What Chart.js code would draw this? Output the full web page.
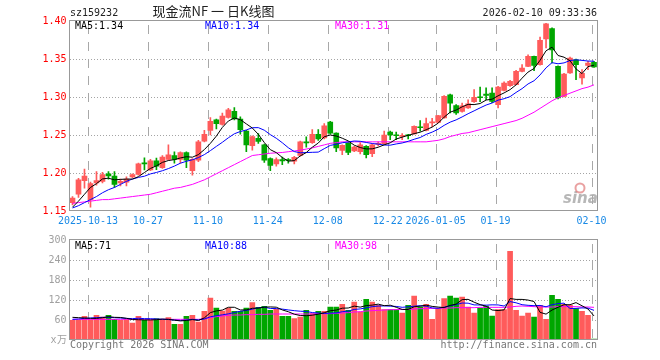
<!DOCTYPE html>
<html lang="zh-CN">
<head>
<meta charset="utf-8">
<title>现金流NF 日K线图</title>
<script src="https://cdn.jsdelivr.net/npm/chart.js@4.4.1/dist/chart.umd.min.js"></script>
<style>
html,body{margin:0;padding:0;background:#fff;}
#wrap{position:relative;width:660px;height:360px;overflow:hidden;background:#fff;}
#wrap canvas{position:absolute;left:0;}
.t{position:absolute;font-family:"DejaVu Sans Mono",monospace;font-size:10px;line-height:10px;white-space:pre;}
</style>
</head>
<body>
<div id="wrap">
  <canvas id="kline" width="660" height="232" style="top:0;width:660px;height:232px;"></canvas>
  <canvas id="vol" width="660" height="130" style="top:230px;width:660px;height:130px;"></canvas>
  <div class="t" style="left:70px;top:8px;color:#222;">sz159232</div>
  <div class="t" style="left:100px;width:227px;top:4px;text-align:center;font-family:'Noto Sans CJK SC',sans-serif;font-size:13px;line-height:13px;color:#222;">现金流NF 一 日K线图</div>
  <div class="t" style="right:63px;top:8px;color:#222;">2026-02-10 09:33:36</div>
  <div class="t" style="left:75px;top:21px;color:#000;">MA5:1.34</div>
  <div class="t" style="left:205px;top:21px;color:#0000ff;">MA10:1.34</div>
  <div class="t" style="left:335px;top:21px;color:#ff00ff;">MA30:1.31</div>
  <div class="t" style="left:75px;top:241px;color:#000;">MA5:71</div>
  <div class="t" style="left:205px;top:241px;color:#0000ff;">MA10:88</div>
  <div class="t" style="left:335px;top:241px;color:#ff00ff;">MA30:98</div>
  <div class="t" style="left:70px;top:340px;color:#777;">Copyright 2026 SINA.COM</div>
  <div class="t" style="right:63px;top:340px;color:#777;">http://finance.sina.com.cn</div>
</div>
<script>
// ---------- data ----------
const dates = [
 '2025-09-30','2025-10-09','2025-10-10',
 '2025-10-13','2025-10-14','2025-10-15','2025-10-16','2025-10-17',
 '2025-10-20','2025-10-21','2025-10-22','2025-10-23','2025-10-24',
 '2025-10-27','2025-10-28','2025-10-29','2025-10-30','2025-10-31',
 '2025-11-03','2025-11-04','2025-11-05','2025-11-06','2025-11-07',
 '2025-11-10','2025-11-11','2025-11-12','2025-11-13','2025-11-14',
 '2025-11-17','2025-11-18','2025-11-19','2025-11-20','2025-11-21',
 '2025-11-24','2025-11-25','2025-11-26','2025-11-27','2025-11-28',
 '2025-12-01','2025-12-02','2025-12-03','2025-12-04','2025-12-05',
 '2025-12-08','2025-12-09','2025-12-10','2025-12-11','2025-12-12',
 '2025-12-15','2025-12-16','2025-12-17','2025-12-18','2025-12-19',
 '2025-12-22','2025-12-23','2025-12-24','2025-12-25','2025-12-26',
 '2025-12-29','2025-12-30','2025-12-31',
 '2026-01-05','2026-01-06','2026-01-07','2026-01-08','2026-01-09',
 '2026-01-12','2026-01-13','2026-01-14','2026-01-15','2026-01-16',
 '2026-01-19','2026-01-20','2026-01-21','2026-01-22','2026-01-23',
 '2026-01-26','2026-01-27','2026-01-28','2026-01-29','2026-01-30',
 '2026-02-02','2026-02-03','2026-02-04','2026-02-05','2026-02-06',
 '2026-02-09','2026-02-10'
];
const tickDates  = ['2025-10-13','2025-10-27','2025-11-10','2025-11-24','2025-12-08','2025-12-22','2026-01-05','2026-01-19','2026-02-10'];
const tickLabels = ['2025-10-13','10-27','11-10','11-24','12-08','12-22','2026-01-05','01-19','02-10'];

const open = [1.161,1.172,1.190,1.165,1.187,1.189,1.199,1.196,1.187,1.188,
 1.195,1.198,1.2125,1.204,1.216,1.207,1.218,1.223,1.218,1.227,
 1.203,1.217,1.242,1.256,1.270,1.264,1.273,1.281,1.271,1.255,
 1.236,1.2455,1.237,1.219,1.212,1.2175,1.2175,1.2155,1.223,1.241,
 1.240,1.251,1.246,1.267,1.2525,1.2297,1.2395,1.229,1.228,1.235,
 1.2255,1.2375,1.2386,1.254,1.250,1.248,1.2495,1.2513,1.2605,1.256,
 1.266,1.2666,1.2724,1.303,1.2888,1.281,1.2855,1.294,1.300,1.304,
 1.3053,1.290,1.3087,1.3149,1.3162,1.3337,1.3403,1.3534,1.3425,1.3763,
 1.390,1.3403,1.3008,1.3316,1.349,1.325,1.3416,1.3455];
const high = [1.169,1.193,1.205,1.188,1.202,1.201,1.202,1.202,1.192,1.195,
 1.199,1.213,1.220,1.218,1.2197,1.223,1.237,1.228,1.228,1.228,
 1.219,1.243,1.256,1.273,1.271,1.279,1.285,1.286,1.274,1.256,
 1.249,1.252,1.238,1.220,1.220,1.221,1.219,1.222,1.242,1.2475,
 1.257,1.257,1.265,1.268,1.253,1.237,1.240,1.235,1.240,1.236,
 1.238,1.241,1.255,1.255,1.254,1.252,1.251,1.262,1.269,1.2724,
 1.272,1.276,1.302,1.304,1.290,1.292,1.2964,1.3096,1.313,1.312,
 1.312,1.314,1.320,1.322,1.335,1.3425,1.3555,1.354,1.379,1.397,
 1.391,1.341,1.331,1.3525,1.350,1.336,1.347,1.347];
const low = [1.158,1.168,1.180,1.155,1.184,1.187,1.192,1.181,1.183,1.183,
 1.194,1.197,1.204,1.203,1.2043,1.206,1.217,1.213,1.213,1.207,
 1.197,1.215,1.241,1.250,1.258,1.263,1.272,1.270,1.251,1.228,
 1.230,1.239,1.214,1.203,1.209,1.211,1.213,1.212,1.222,1.234,
 1.239,1.243,1.245,1.251,1.228,1.224,1.224,1.228,1.225,1.2197,
 1.2215,1.2355,1.238,1.244,1.244,1.244,1.245,1.251,1.255,1.2555,
 1.261,1.266,1.272,1.279,1.277,1.280,1.285,1.293,1.294,1.2965,
 1.2925,1.2855,1.308,1.314,1.316,1.333,1.340,1.3346,1.342,1.3645,
 1.3447,1.2975,1.300,1.331,1.3228,1.317,1.336,1.339];
const close = [1.167,1.191,1.196,1.186,1.190,1.198,1.196,1.185,1.189,1.192,
 1.198,1.212,1.212,1.216,1.209,1.221,1.224,1.218,1.227,1.217,
 1.218,1.241,1.251,1.268,1.265,1.275,1.283,1.271,1.257,1.237,
 1.248,1.2415,1.217,1.210,1.2175,1.216,1.2165,1.2205,1.241,1.2395,
 1.251,1.245,1.262,1.2525,1.233,1.2363,1.227,1.234,1.237,1.224,
 1.237,1.239,1.250,1.250,1.249,1.2495,1.249,1.2613,1.2595,1.265,
 1.267,1.2754,1.3008,1.292,1.279,1.2885,1.291,1.2995,1.299,1.302,
 1.2942,1.3132,1.3184,1.3205,1.3337,1.3382,1.3534,1.3416,1.3745,1.3964,
 1.362,1.2987,1.3303,1.3513,1.3425,1.331,1.3447,1.3395];

const ma5 = [1.155,1.163,1.172,1.181,1.186,1.1922,1.1932,1.191,1.1916,1.192,
 1.192,1.1952,1.2006,1.206,1.2094,1.214,1.2164,1.2176,1.2198,1.2214,
 1.2208,1.2242,1.2308,1.239,1.2486,1.260,1.2684,1.2724,1.2702,1.2646,
 1.2592,1.2509,1.2401,1.2307,1.2268,1.2204,1.2156,1.2163,1.2225,1.2269,
 1.2339,1.2394,1.2477,1.25,1.2487,1.2458,1.2422,1.2366,1.2335,1.2317,
 1.2318,1.2339,1.2371,1.2397,1.2447,1.2472,1.2495,1.2518,1.2537,1.2569,
 1.2604,1.2656,1.2735,1.28,1.2828,1.2871,1.2903,1.29,1.2914,1.296,
 1.2971,1.3016,1.3054,1.3097,1.316,1.3248,1.3328,1.3375,1.3483,1.3608,
 1.3656,1.3546,1.3524,1.3477,1.337,1.3308,1.34,1.3418];
const ma10 = [1.154,1.157,1.161,1.165,1.169,1.174,1.178,1.181,1.185,1.189,
 1.1921,1.1942,1.1958,1.1988,1.2007,1.203,1.2058,1.2091,1.2129,1.2154,
 1.2174,1.2203,1.2242,1.2294,1.235,1.2404,1.2463,1.2516,1.2546,1.2566,
 1.2596,1.2597,1.2563,1.2505,1.2457,1.2398,1.2333,1.2282,1.2266,1.2269,
 1.2272,1.2275,1.232,1.2363,1.2378,1.2398,1.2408,1.2421,1.2417,1.2402,
 1.2388,1.238,1.2368,1.2366,1.2382,1.2395,1.2417,1.2444,1.2467,1.2508,
 1.2538,1.2576,1.2627,1.2669,1.2699,1.2738,1.278,1.2818,1.2857,1.2894,
 1.2921,1.2959,1.2977,1.3005,1.306,1.311,1.3172,1.3214,1.329,1.3384,
 1.3452,1.3437,1.3449,1.348,1.3489,1.3482,1.3473,1.3471];
const ma30 = [1.160,1.161,1.162,1.163,1.164,1.165,1.165,1.166,1.167,1.168,
 1.169,1.170,1.171,1.172,1.174,1.176,1.178,1.180,1.181,1.183,
 1.185,1.188,1.191,1.195,1.199,1.203,1.207,1.211,1.215,1.219,
 1.223,1.224,1.225,1.226,1.2265,1.227,1.228,1.229,1.230,1.2315,
 1.233,1.235,1.237,1.239,1.240,1.241,1.241,1.241,1.241,1.241,
 1.241,1.241,1.241,1.241,1.241,1.241,1.241,1.241,1.241,1.241,
 1.242,1.243,1.245,1.248,1.250,1.252,1.253,1.255,1.257,1.259,
 1.261,1.263,1.265,1.267,1.269,1.272,1.276,1.280,1.285,1.290,
 1.295,1.299,1.302,1.305,1.308,1.311,1.313,1.316];

const volume = [59,59,71,61,74,69,74,62,59,61,
 51,71,59,59,64,61,67,47,47,71,
 74,54,86,126,96,87,96,86,86,96,
 112,98,101,89,92,71,71,64,69,89,
 79,86,86,99,99,107,89,114,84,122,
 114,104,91,91,91,81,104,132,99,107,
 62,94,124,132,126,129,99,81,96,102,
 72,91,91,266,89,72,81,69,104,62,
 134,122,107,104,94,86,74,3];
const vma5 = [68,67,66,65,64.8,66.8,69.8,68,67.6,65,
 61.4,60.8,60.2,60.2,60.8,62.8,62,59.6,57.2,58.6,
 61.2,58.6,66.4,82.2,87.2,89.8,98.2,98.2,90.2,90.2,
 95.2,95.6,98.6,99.2,98.4,90.2,84.8,77.4,73.4,72.8,
 74.4,77.4,81.8,87.8,89.8,95.4,96,101.6,98.6,103.2,
 104.6,107.6,103,104.4,98.2,91.6,91.6,99.8,101.4,104.6,
 100.8,98.8,97.2,103.8,107.6,121,122,113.4,106.2,101.4,
 90,88.4,90.4,124.4,121.8,121.8,119.8,115.4,83,77.6,
 90,98.2,105.8,105.8,112.2,102.6,93,72.2];
const vma10 = [62,63,65,66,67,68,68,67,66,64.9,
 64.1,65.3,64.1,63.9,62.9,62.1,61.4,59.9,58.7,59.7,
 62,60.3,63,69.7,72.9,75.5,78.4,82.3,86.2,88.7,
 92.5,96.9,98.4,94.7,94.3,92.7,90.2,88,86.3,85.6,
 82.3,81.1,79.6,80.6,81.3,84.9,86.7,91.7,93.2,96.5,
 100,101.8,102.3,101.5,100.7,98.1,99.6,101.4,102.9,101.4,
 96.2,95.2,98.5,102.6,106.1,110.9,110.4,105.3,105,104.5,
 105.5,105.2,101.9,115.3,111.6,105.9,104.1,102.9,103.7,99.7,
 105.9,109,110.6,94.4,94.9,96.3,95.6,89];
const vma30 = [62,62,62,62,62,62,62,62,62,62,
 62,62,62,62,62,62,62,62,62,62,
 62,62,64,67,70,72,74,75,75,76,
 76,77,77,78,78,78,78,78,78,78,
 78,79,79,79,80,81,82,84,85,87,
 88,89,90,91,91,92,92,93,94,94,
 95,95,96,96,97,97,97,97,98,98,
 98,98,98,99,101,102,101,100,99,99,
 99,100,100,100,100,99,99,98];

const priceMin = 1.15, priceMax = 1.40, priceStep = 0.05;
const priceGrid = [1.20, 1.25, 1.30, 1.35];
const volMin = 0, volMax = 300, volStep = 60, volUnit = 'x万';
const volGrid = [60, 120, 180, 240];

// ---------- styling ----------
const RED = '#ff5b5b', GREEN = '#00a600';
const MONO = 'DejaVu Sans Mono';
const tickIdx = tickDates.map(d => dates.indexOf(d));
const isUp = close.map((c, i) => c >= open[i]);
const candleColors = isUp.map(u => u ? RED : GREEN);

// dotted / dashed grid lines, positioned by the chart's own scales
function makeGridPlugin(values) {
  return {
    id: 'sinaGrid',
    beforeDatasetsDraw(chart) {
      const ctx = chart.ctx, a = chart.chartArea;
      const xs = chart.scales.x, ys = chart.scales.y;
      const L = Math.floor(a.left), R = Math.round(a.right), T = Math.round(a.top), B = Math.round(a.bottom);
      ctx.save();
      ctx.fillStyle = '#a4a4a4';
      for (let k = 0; k < values.length; k++) {
        const py = Math.round(ys.getPixelForValue(values[k]));
        for (let x = L + 1; x < R; x += 3) ctx.fillRect(x, py, 1, 1);
      }
      ctx.fillStyle = '#a8a8a8';
      for (let k = 0; k < tickIdx.length; k++) {
        const px = Math.round(xs.getPixelForValue(tickIdx[k]) - 2.5);
        for (let y = T + 4; y < B; y += 17) ctx.fillRect(px, y, 1, Math.min(9, B - y));
      }
      ctx.restore();
    }
  };
}
const framePlugin = {
  id: 'frame',
  afterDraw(chart) {
    const a = chart.chartArea, c = chart.ctx;
    c.save();
    c.strokeStyle = '#999';
    c.lineWidth = 1;
    c.strokeRect(Math.floor(a.left) + 0.5, Math.round(a.top) - 0.5,
                 Math.round(a.right) - Math.floor(a.left), Math.round(a.bottom) - Math.round(a.top));
    c.restore();
  }
};
const sinaMark = {
  id: 'sinaMark',
  beforeDatasetsDraw(chart) {
    const c = chart.ctx;
    c.save();
    c.fillStyle = 'rgba(170,170,170,0.85)';
    c.font = 'italic bold 15px "DejaVu Sans"';
    c.fillText('sina', 563, 203);
    c.strokeStyle = 'rgba(225,130,130,0.75)';
    c.lineWidth = 2;
    c.beginPath(); c.arc(580, 188, 4.5, 0, Math.PI * 2); c.stroke();
    c.restore();
  }
};

function xAxis(showLabels) {
  return {
    type: 'category', offset: true,
    grid: { display: false, drawTicks: false },
    border: { display: false },
    ticks: { display: showLabels, autoSkip: false, maxRotation: 0, minRotation: 0,
      labelOffset: -2.5, padding: 4, color: '#1a8ae6', font: { family: MONO, size: 10 },
      callback: (v, i) => { const k = tickIdx.indexOf(i); return k >= 0 ? tickLabels[k] : ''; } },
    afterFit: s => { s.height = showLabels ? 21 : 0; }
  };
}
function lineDs(data, color) {
  return { type: 'line', data, borderColor: color, borderWidth: 1, pointRadius: 0,
           tension: 0, fill: false, order: 0 };
}
const common = { responsive: false, animation: false, devicePixelRatio: 1, events: [] };

new Chart(document.getElementById('kline'), {
  type: 'bar',
  data: {
    labels: dates,
    datasets: [
      lineDs(ma5, '#000000'),
      lineDs(ma10, '#0000ff'),
      lineDs(ma30, '#ff00ff'),
      { data: low.map((l, i) => [l, high[i]]), backgroundColor: candleColors,
        barThickness: 1, grouped: false, order: 2, borderWidth: 0 },
      { data: open.map((o, i) => [o, close[i]]), backgroundColor: candleColors,
        barThickness: 5, grouped: false, order: 1, borderWidth: 0, minBarLength: 1 }
    ]
  },
  options: Object.assign({}, common, {
    plugins: { legend: { display: false }, tooltip: { enabled: false } },
    layout: { padding: { left: 0, right: 63, top: 21, bottom: 0 } },
    scales: {
      x: xAxis(true),
      y: { min: priceMin, max: priceMax,
        ticks: { stepSize: priceStep, padding: 3, color: '#ff0000', font: { family: MONO, size: 10 },
                 callback: v => Number(v).toFixed(2) },
        grid: { display: false, drawTicks: false },
        border: { display: false },
        afterFit: s => { s.width = 69.5; } }
    }
  }),
  plugins: [makeGridPlugin(priceGrid), sinaMark, framePlugin]
});

new Chart(document.getElementById('vol'), {
  type: 'bar',
  data: {
    labels: dates,
    datasets: [
      lineDs(vma5, '#000000'),
      lineDs(vma10, '#0000ff'),
      lineDs(vma30, '#ff00ff'),
      { data: volume, backgroundColor: candleColors, barThickness: 5, grouped: false,
        order: 1, borderWidth: 0, minBarLength: 1 }
    ]
  },
  options: Object.assign({}, common, {
    plugins: { legend: { display: false }, tooltip: { enabled: false } },
    layout: { padding: { left: 0, right: 63, top: 10, bottom: 20 } },
    scales: {
      x: xAxis(false),
      y: { min: volMin, max: volMax,
        ticks: { stepSize: volStep, padding: 3, color: '#a0a0a0', font: { family: MONO, size: 10 },
                 callback: v => v === 0 ? volUnit : String(v) },
        grid: { display: false, drawTicks: false },
        border: { display: false },
        afterFit: s => { s.width = 69.5; } }
    }
  }),
  plugins: [makeGridPlugin(volGrid), framePlugin]
});
</script>
</body>
</html>
